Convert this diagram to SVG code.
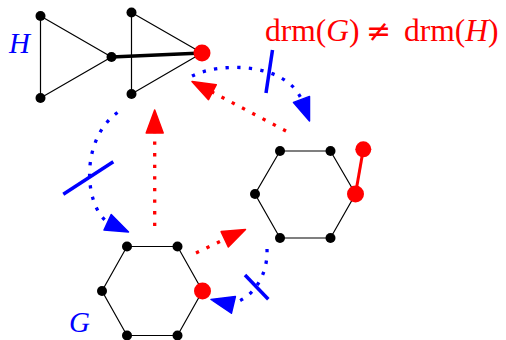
<svg xmlns="http://www.w3.org/2000/svg" width="506" height="340" viewBox="0 0 506 340">
<style>
.e{stroke:#000;stroke-width:1.2;fill:none}
.n{fill:#000}
.rn{fill:#f00}
.rd{stroke:#f00;stroke-width:3.3;fill:none;stroke-dasharray:3.3 8.3}
.bd{stroke:#00f;stroke-width:3.3;fill:none;stroke-dasharray:3.3 8.3}
.rh{fill:#f00;stroke:#f00;stroke-width:1.5;stroke-linejoin:round}
.bh{fill:#00f;stroke:#00f;stroke-width:1.5;stroke-linejoin:round}
.tick{stroke:#00f;stroke-width:3.5}
.lbl{font-family:"Liberation Serif","DejaVu Serif",serif;font-size:29px;font-style:italic;fill:#00f}
.eq{font-family:"Liberation Serif","DejaVu Serif",serif;font-size:31.5px;fill:#f00}
.it{font-style:italic}
.ne{font-family:"DejaVu Serif",serif;font-size:30px}
</style>
<g id="connectors">
  <path class="e" d="M40.5,16 L40.5,98 L111.5,57 Z"/>
  <path class="e" d="M131.5,12.5 L131.5,94 L202,53 Z"/>
  <path d="M111.5,57 L202,53" stroke="#000" stroke-width="3.5"/>
  <path class="e" d="M127,246.5 L177.5,246.5 L202.5,291 L177.5,335.5 L127,335.5 L102,291 Z"/>
  <path class="e" d="M280,151 L330.5,151 L355.5,194 L330.5,238 L280,238 L255,194 Z"/>
  <path d="M355.5,194 L363.3,149.3" stroke="#f00" stroke-width="3"/>
  <path class="rd" d="M154.7,226 L154.7,133"/>
  <polygon class="rh" points="154.7,110 146.2,133 163.2,133"/>
  <path class="rd" d="M196,253 L224.7,239.3"/>
  <polygon class="rh" points="245.5,229.5 228.3,247 221.1,231.6"/>
  <path class="rd" d="M286,131 L212.4,92.2"/>
  <polygon class="rh" points="192,81.5 216.3,84.7 208.5,99.7"/>
  <path class="bd" d="M192,76 C220,62 285,62 301.5,99.4"/>
  <polygon class="bh" points="309.5,121 309.5,96.4 293.5,102.4"/>
  <path class="tick" d="M272.5,50 L266,93"/>
  <path class="bd" d="M117.5,112.5 C80,140 84,205 107.6,222.3"/>
  <polygon class="bh" points="128.5,232 111.2,214.6 104,230"/>
  <path class="tick" d="M63.3,194.3 L113.3,161.7"/>
  <path class="bd" d="M267,249 C268,270 258,294 235,303"/>
  <polygon class="bh" points="211,299.5 235.4,296.6 231.4,313.2"/>
  <path class="tick" d="M245,275 L268.3,299.3"/>
</g>
<g id="H1"><circle class="n" cx="40.5" cy="16" r="5"/></g>
<g id="H2"><circle class="n" cx="40.5" cy="98" r="5"/></g>
<g id="H3"><circle class="n" cx="111.5" cy="57" r="5"/></g>
<g id="H4"><circle class="n" cx="131.5" cy="12.5" r="5"/></g>
<g id="H5"><circle class="n" cx="131.5" cy="94" r="5"/></g>
<g id="H6"><circle class="rn" cx="202" cy="53" r="8.5"/></g>
<g id="G1"><circle class="n" cx="127" cy="246.5" r="5"/></g>
<g id="G2"><circle class="n" cx="177.5" cy="246.5" r="5"/></g>
<g id="G3"><circle class="rn" cx="202.5" cy="291" r="8.5"/></g>
<g id="G4"><circle class="n" cx="177.5" cy="335.5" r="5"/></g>
<g id="G5"><circle class="n" cx="127" cy="335.5" r="5"/></g>
<g id="G6"><circle class="n" cx="102" cy="291" r="5"/></g>
<g id="R1"><circle class="n" cx="280" cy="151" r="5"/></g>
<g id="R2"><circle class="n" cx="330.5" cy="151" r="5"/></g>
<g id="R3"><circle class="rn" cx="355.5" cy="194" r="8.5"/></g>
<g id="R4"><circle class="n" cx="330.5" cy="238" r="5"/></g>
<g id="R5"><circle class="n" cx="280" cy="238" r="5"/></g>
<g id="R6"><circle class="n" cx="255" cy="194" r="5"/></g>
<g id="R7"><circle class="rn" cx="363.3" cy="149.3" r="8"/></g>
<g id="labels">
  <text class="lbl" x="9" y="53">H</text>
  <text class="lbl" x="69" y="332">G</text>
  <text class="eq" y="41"><tspan x="265">drm(<tspan class="it">G</tspan>)</tspan><tspan class="ne" x="366">≠</tspan><tspan x="404">drm(<tspan class="it">H</tspan>)</tspan></text>
</g>
</svg>
